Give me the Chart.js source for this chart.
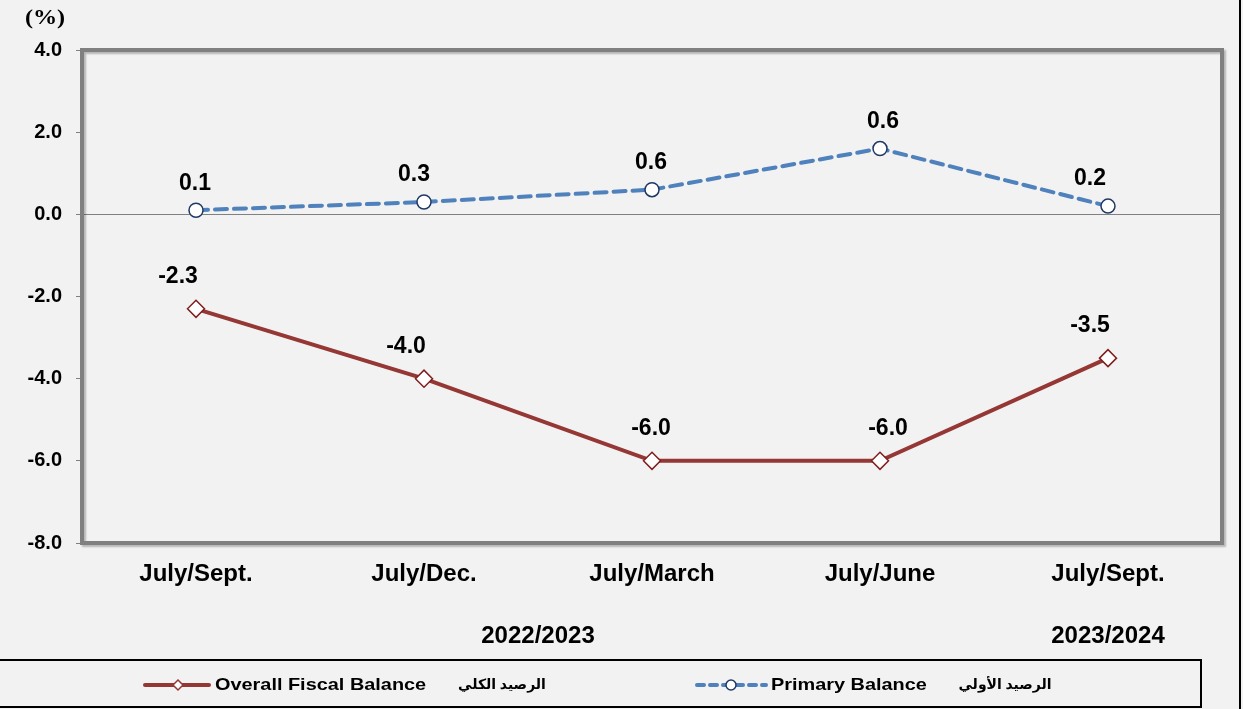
<!DOCTYPE html>
<html>
<head>
<meta charset="utf-8">
<script src="https://cdn.jsdelivr.net/npm/chart.js@4.4.1/dist/chart.umd.min.js"></script>
<style>
html,body{margin:0;padding:0;background:#f2f2f2;}
#wrap{width:1243px;height:709px;position:relative;}
</style>
</head>
<body>
<div id="wrap"><canvas id="c" width="1243" height="709"></canvas></div>
<script>
const categories = ["July/Sept.", "July/Dec.", "July/March", "July/June", "July/Sept."];
const yearLabels = [{text: "2022/2023", from: 1, to: 2}, {text: "2023/2024", from: 4, to: 4}];
const primaryValues = [0.1, 0.3, 0.6, 1.6, 0.2];
const primaryLabels = ["0.1", "0.3", "0.6", "0.6", "0.2"];
const overallValues = [-2.3, -4.0, -6.0, -6.0, -3.5];
const overallLabels = ["-2.3", "-4.0", "-6.0", "-6.0", "-3.5"];
const yTicks = [4, 2, 0, -2, -4, -6, -8];

// label placement (style only)
const primaryLabelDx = [-1, -10, -1, 3, -18];
const overallLabelDx = [-18, -18, -1, 8, -18];

const RED = '#953735';
const BLUE = '#4f81bd';
const FONT = '"Liberation Sans", Arial, sans-serif';

function wideText(ctx, text, x, y, sx, align) {
  ctx.save();
  ctx.translate(x, y);
  ctx.scale(sx, 1);
  ctx.textAlign = align || 'center';
  ctx.fillText(text, 0, 0);
  ctx.restore();
}

const bgPlugin = {
  id: 'bg',
  beforeDraw(chart) {
    const ctx = chart.ctx;
    ctx.save();
    ctx.fillStyle = '#f2f2f2';
    ctx.fillRect(0, 0, chart.width, chart.height);
    ctx.restore();
  },
  beforeDatasetsDraw(chart) {
    const {ctx, chartArea: a} = chart;
    ctx.save();
    ctx.shadowColor = 'rgba(0,0,0,0.25)';
    ctx.shadowOffsetX = 2;
    ctx.shadowOffsetY = 2;
    ctx.shadowBlur = 2;
    ctx.strokeStyle = '#808080';
    ctx.lineWidth = 4;
    ctx.strokeRect(a.left, a.top, a.right - a.left, a.bottom - a.top);
    ctx.restore();
  },
  afterDraw(chart) {
    const ctx = chart.ctx;
    const xs = chart.scales.x;
    ctx.save();
    ctx.fillStyle = '#000';
    ctx.textBaseline = 'middle';
    // y title
    ctx.font = 'bold 21px "Liberation Serif", "Times New Roman", serif';
    wideText(ctx, '(%)', 45, 19, 1.15);
    // year labels
    ctx.font = 'bold 24px ' + FONT;
    yearLabels.forEach(y => {
      const x = (xs.getPixelForValue(y.from) + xs.getPixelForValue(y.to)) / 2;
      wideText(ctx, y.text, x, 636, 1.0);
    });
    // data labels
    ctx.font = 'bold 23px ' + FONT;
    const m0 = chart.getDatasetMeta(0), m1 = chart.getDatasetMeta(1);
    m0.data.forEach((p, i) => wideText(ctx, primaryLabels[i], p.x + primaryLabelDx[i], p.y - 27, 1.0));
    m1.data.forEach((p, i) => wideText(ctx, overallLabels[i], p.x + overallLabelDx[i], p.y - 32, 1.0));
    // legend box
    ctx.strokeStyle = '#000';
    ctx.lineWidth = 2;
    ctx.strokeRect(-2, 660, 1203, 47);
    // outer right border
    ctx.beginPath();
    ctx.moveTo(1240, 0);
    ctx.lineTo(1240, 709);
    ctx.stroke();
    // legend: overall
    const ly = 685;
    ctx.lineCap = 'round';
    ctx.strokeStyle = RED;
    ctx.lineWidth = 4;
    ctx.beginPath(); ctx.moveTo(145, ly); ctx.lineTo(209, ly); ctx.stroke();
    drawDiamond(ctx, 178, ly, 5, RED);
    ctx.fillStyle = '#000';
    ctx.font = 'bold 17px ' + FONT;
    wideText(ctx, 'Overall Fiscal Balance', 215, ly, 1.17, 'left');
    ctx.font = 'bold 14px "Noto Sans", "DejaVu Sans", sans-serif';
    wideText(ctx, 'الرصيد الكلي', 502, ly, 1.0);
    // legend: primary
    ctx.strokeStyle = BLUE;
    ctx.lineWidth = 4;
    ctx.setLineDash([7, 6]);
    ctx.beginPath(); ctx.moveTo(697, ly); ctx.lineTo(766, ly); ctx.stroke();
    ctx.setLineDash([]);
    ctx.beginPath();
    ctx.arc(731, ly, 5, 0, Math.PI * 2);
    ctx.fillStyle = '#fff'; ctx.fill();
    ctx.lineWidth = 1.5; ctx.strokeStyle = '#1f3864'; ctx.stroke();
    ctx.fillStyle = '#000';
    ctx.font = 'bold 17px ' + FONT;
    wideText(ctx, 'Primary Balance', 771, ly, 1.17, 'left');
    ctx.font = 'bold 14px "Noto Sans", "DejaVu Sans", sans-serif';
    wideText(ctx, 'الرصيد الأولي', 1005, ly, 1.0);
    ctx.restore();
  }
};
function drawDiamond(ctx, x, y, r, color) {
  ctx.save();
  ctx.beginPath();
  ctx.moveTo(x, y - r); ctx.lineTo(x + r, y); ctx.lineTo(x, y + r); ctx.lineTo(x - r, y); ctx.closePath();
  ctx.fillStyle = '#fff'; ctx.fill();
  ctx.lineWidth = 1.5; ctx.strokeStyle = color; ctx.setLineDash([]); ctx.stroke();
  ctx.restore();
}

new Chart(document.getElementById('c'), {
  type: 'line',
  data: {
    labels: categories,
    datasets: [
      {
        label: 'Primary Balance',
        data: primaryValues,
        borderColor: BLUE,
        borderWidth: 4,
        borderDash: [12, 7],
        borderCapStyle: 'round',
        pointStyle: 'circle',
        pointRadius: 7,
        pointBackgroundColor: '#fff',
        pointBorderColor: '#1f3864',
        pointBorderWidth: 1.5,
        tension: 0
      },
      {
        label: 'Overall Fiscal Balance',
        data: overallValues,
        borderColor: RED,
        borderWidth: 4,
        pointStyle: 'rectRot',
        pointRadius: 8.5,
        pointBackgroundColor: '#fff',
        pointBorderColor: '#7f1f1d',
        pointBorderWidth: 1.5,
        tension: 0
      }
    ]
  },
  options: {
    responsive: false,
    animation: false,
    layout: {padding: {left: 0, top: 50, right: 21, bottom: 0}},
    plugins: {legend: {display: false}, tooltip: {enabled: false}},
    scales: {
      x: {
        offset: true,
        grid: {display: false, drawTicks: false},
        border: {display: false},
        ticks: {
          color: '#000',
          font: {family: FONT, size: 24, weight: 'bold'},
          padding: 17,
          maxRotation: 0
        },
        afterFit(s) { s.height = 166; }
      },
      y: {
        min: -8, max: 4,
        afterBuildTicks(s) { s.ticks = yTicks.map(v => ({value: v})); },
        grid: {
          color: ctx => (ctx.tick && ctx.tick.value === 0) ? '#808080' : 'transparent',
          lineWidth: 1,
          tickColor: '#808080',
          tickLength: 6,
          drawTicks: true
        },
        border: {display: false},
        ticks: {
          color: '#000',
          font: {family: FONT, size: 20, weight: 'bold'},
          padding: 14,
          callback: v => v.toFixed(1)
        },
        afterFit(s) { s.width = 82; }
      }
    }
  },
  plugins: [bgPlugin]
});
</script>
</body>
</html>
